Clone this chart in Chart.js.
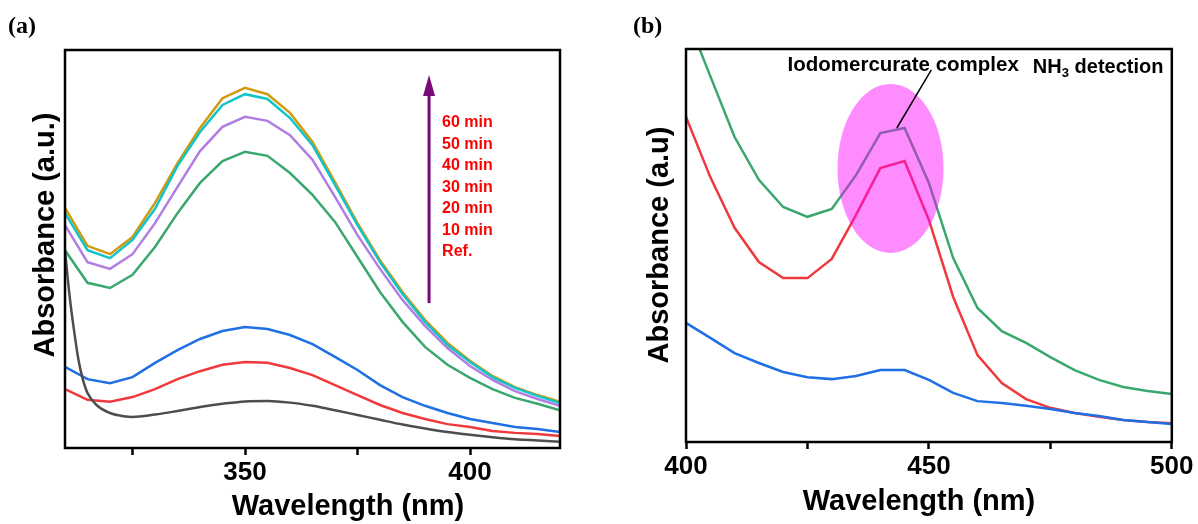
<!DOCTYPE html>
<html>
<head>
<meta charset="utf-8">
<script src="https://cdn.jsdelivr.net/npm/chart.js@4.4.0/dist/chart.umd.min.js"></script>
<style>
  body { margin: 0; background: #fff; }
  #wrap { position: relative; width: 1198px; height: 524px; }
  canvas { position: absolute; top: 0; }
</style>
</head>
<body>
<div id="wrap">
  <canvas id="chartA" width="600" height="524" style="left:0"></canvas>
  <canvas id="chartB" width="598" height="524" style="left:600px"></canvas>
</div>
<script>
// ---- panel (a): absorbance vs time ----
const wavelengthsA = [310, 315, 320, 325, 330, 335, 340, 345, 350, 355, 360, 365, 370, 375, 380, 385, 390, 395, 400, 405, 410, 415, 420];
const abs60min = [0.603, 0.508, 0.487, 0.530, 0.616, 0.716, 0.804, 0.879, 0.905, 0.889, 0.842, 0.769, 0.668, 0.565, 0.472, 0.392, 0.322, 0.264, 0.219, 0.181, 0.153, 0.133, 0.116];
const abs50min = [0.590, 0.497, 0.477, 0.523, 0.601, 0.709, 0.794, 0.862, 0.889, 0.877, 0.829, 0.761, 0.661, 0.560, 0.467, 0.387, 0.317, 0.259, 0.216, 0.178, 0.151, 0.131, 0.113];
const abs40min = [0.560, 0.467, 0.450, 0.487, 0.565, 0.656, 0.746, 0.807, 0.832, 0.822, 0.786, 0.724, 0.631, 0.535, 0.450, 0.372, 0.307, 0.251, 0.206, 0.171, 0.143, 0.123, 0.106];
const abs30min = [0.497, 0.415, 0.402, 0.435, 0.505, 0.590, 0.666, 0.721, 0.744, 0.734, 0.691, 0.636, 0.568, 0.480, 0.392, 0.317, 0.254, 0.209, 0.176, 0.148, 0.126, 0.111, 0.095];
const abs20min = [0.204, 0.173, 0.163, 0.178, 0.214, 0.246, 0.274, 0.294, 0.304, 0.299, 0.284, 0.261, 0.229, 0.196, 0.158, 0.128, 0.106, 0.088, 0.073, 0.063, 0.053, 0.048, 0.040];
const abs10min = [0.148, 0.121, 0.116, 0.128, 0.148, 0.173, 0.193, 0.209, 0.216, 0.214, 0.201, 0.183, 0.158, 0.133, 0.108, 0.088, 0.073, 0.060, 0.053, 0.043, 0.038, 0.035, 0.030];
const refWavelengths = [310, 311, 312, 313, 314, 315, 317, 320, 323, 325, 330, 335, 340, 345, 350, 355, 360, 365, 370, 375, 380, 385, 390, 395, 400, 405, 410, 415, 420];
const absRef = [0.497, 0.384, 0.296, 0.221, 0.171, 0.138, 0.108, 0.088, 0.080, 0.078, 0.084, 0.093, 0.103, 0.111, 0.117, 0.118, 0.114, 0.106, 0.095, 0.083, 0.071, 0.059, 0.049, 0.040, 0.033, 0.027, 0.022, 0.019, 0.016];
const xTicksA = [325, 350, 375, 400];
const timeLabels = ['60 min', '50 min', '40 min', '30 min', '20 min', '10 min', 'Ref.'];

// ---- panel (b): NH3 detection ----
const wavelengthsB = [400, 405, 410, 415, 420, 425, 430, 435, 440, 445, 450, 455, 460, 465, 470, 475, 480, 485, 490, 495, 500];
const absGreenB = [1.087, 0.931, 0.776, 0.667, 0.598, 0.573, 0.593, 0.679, 0.786, 0.799, 0.659, 0.468, 0.341, 0.282, 0.252, 0.216, 0.183, 0.158, 0.140, 0.130, 0.122];
const absRedB = [0.827, 0.674, 0.545, 0.458, 0.417, 0.417, 0.466, 0.578, 0.697, 0.715, 0.565, 0.369, 0.221, 0.150, 0.109, 0.087, 0.074, 0.064, 0.056, 0.051, 0.048];
const absBlueB = [0.303, 0.265, 0.226, 0.201, 0.178, 0.165, 0.160, 0.168, 0.183, 0.183, 0.158, 0.125, 0.104, 0.099, 0.092, 0.084, 0.074, 0.066, 0.056, 0.051, 0.046];
const xTicksB = [400, 425, 450, 475, 500];

const SANS = '"Liberation Sans", Arial, sans-serif';
const SERIF = '"Liberation Serif", "Times New Roman", serif';

function pts(xs, ys) {
  return xs.map((x, i) => ({ x: x, y: ys[i] }));
}

function line(label, xs, ys, color, extra) {
  return Object.assign({
    label: label,
    data: pts(xs, ys),
    borderColor: color,
    borderWidth: 2.5,
    pointRadius: 0,
    tension: 0,
    fill: false
  }, extra || {});
}

function baseOptions(xmin, xmax, tickValues, padding) {
  return {
    responsive: false,
    animation: false,
    layout: { padding: padding },
    plugins: { legend: { display: false }, tooltip: { enabled: false } },
    scales: {
      x: {
        type: 'linear',
        min: xmin,
        max: xmax,
        afterBuildTicks: (scale) => { scale.ticks = tickValues.map(v => ({ value: v })); },
        grid: { display: true, drawOnChartArea: false, drawTicks: true, tickLength: 7, tickWidth: 2.5, tickColor: '#000' },
        border: { display: false },
        ticks: {
          padding: 4.5,
          color: '#000',
          maxRotation: 0,
          autoSkip: false,
          font: { family: SANS, size: 26, weight: 'bold', lineHeight: 1 },
          callback: (v) => (v % 50 === 0 ? String(v) : '')
        }
      },
      y: { display: false, min: 0, max: 1 }
    }
  };
}

function drawFrame(chart) {
  const { ctx, chartArea: ca } = chart;
  ctx.save();
  ctx.lineWidth = 2.5;
  ctx.strokeStyle = '#000';
  ctx.strokeRect(ca.left, ca.top, ca.right - ca.left, ca.bottom - ca.top);
  ctx.restore();
}

function drawTitles(ctx, panel, panelX, yTitle, yCx, yCy, xCx, xCy) {
  ctx.save();
  ctx.fillStyle = '#000';
  ctx.textBaseline = 'middle';
  ctx.font = 'bold 24px ' + SERIF;
  ctx.textAlign = 'left';
  ctx.fillText(panel, panelX, 27);
  ctx.font = 'bold 29px ' + SANS;
  ctx.textAlign = 'center';
  ctx.fillText('Wavelength (nm)', xCx, xCy);
  ctx.translate(yCx, yCy);
  ctx.rotate(-Math.PI / 2);
  ctx.fillText(yTitle, 0, 0);
  ctx.restore();
}

// arrow + time labels for (a)
const annotA = {
  id: 'annotA',
  afterDatasetsDraw(chart) {
    const { ctx, scales: { x, y } } = chart;
    drawFrame(chart);
    ctx.save();
    const ax = x.getPixelForValue(390.9);
    const yBase = y.getPixelForValue(0.364);
    const yTip = y.getPixelForValue(0.937);
    ctx.strokeStyle = '#7a0a7a';
    ctx.fillStyle = '#7a0a7a';
    ctx.lineWidth = 3;
    ctx.beginPath();
    ctx.moveTo(ax, yBase);
    ctx.lineTo(ax, yTip + 18);
    ctx.stroke();
    ctx.beginPath();
    ctx.moveTo(ax, yTip);
    ctx.lineTo(ax - 6, yTip + 21);
    ctx.lineTo(ax + 6, yTip + 21);
    ctx.closePath();
    ctx.fill();

    ctx.fillStyle = '#ff0000';
    ctx.font = 'bold 16px ' + SANS;
    ctx.textBaseline = 'middle';
    ctx.textAlign = 'left';
    const tx = x.getPixelForValue(393.8);
    const ty = y.getPixelForValue(0.817);
    timeLabels.forEach((t, i) => ctx.fillText(t, tx, ty + i * 21.5));
    ctx.restore();
  },
  afterDraw(chart) {
    drawTitles(chart.ctx, '(a)', 8, 'Absorbance (a.u.)', 46, 235, 348, 507);
  }
};

// highlight ellipse + labels for (b)
const annotB = {
  id: 'annotB',
  afterDatasetsDraw(chart) {
    const { ctx, scales: { x, y } } = chart;
    ctx.save();
    ctx.fillStyle = 'rgba(255, 0, 255, 0.45)';
    ctx.beginPath();
    ctx.ellipse(x.getPixelForValue(442.1), y.getPixelForValue(0.696), 53, 84.5, 0, 0, Math.PI * 2);
    ctx.fill();
    ctx.restore();
    drawFrame(chart);

    ctx.save();
    ctx.strokeStyle = '#000';
    ctx.lineWidth = 1.5;
    ctx.beginPath();
    ctx.moveTo(x.getPixelForValue(450.5), y.getPixelForValue(0.947));
    ctx.lineTo(x.getPixelForValue(443.4), y.getPixelForValue(0.799));
    ctx.stroke();

    ctx.fillStyle = '#000';
    ctx.textBaseline = 'middle';
    ctx.textAlign = 'left';
    ctx.font = 'bold 20.5px ' + SANS;
    ctx.fillText('Iodomercurate complex', x.getPixelForValue(420.9), y.getPixelForValue(0.959));
    let nx = x.getPixelForValue(471.4);
    const ny = y.getPixelForValue(0.954);
    ctx.font = 'bold 20px ' + SANS;
    ctx.fillText('NH', nx, ny);
    nx += ctx.measureText('NH').width;
    ctx.font = 'bold 13px ' + SANS;
    ctx.fillText('3', nx, ny + 6);
    nx += ctx.measureText('3').width;
    ctx.font = 'bold 20px ' + SANS;
    ctx.fillText(' detection', nx, ny);
    ctx.restore();
  },
  afterDraw(chart) {
    drawTitles(chart.ctx, '(b)', 33, 'Absorbance (a.u)', 60, 245, 319, 502);
  }
};

new Chart(document.getElementById('chartA'), {
  type: 'line',
  data: {
    datasets: [
      line('Ref.', refWavelengths, absRef, '#4d4d4d', { cubicInterpolationMode: 'monotone' }),
      line('50 min', wavelengthsA, abs50min, '#12c4c8'),
      line('60 min', wavelengthsA, abs60min, '#d09a10'),
      line('40 min', wavelengthsA, abs40min, '#b07ee0'),
      line('30 min', wavelengthsA, abs30min, '#3aa86e'),
      line('20 min', wavelengthsA, abs20min, '#1f6fe5'),
      line('10 min', wavelengthsA, abs10min, '#f0393c')
    ]
  },
  options: baseOptions(310, 420, xTicksA, { left: 65, top: 50, right: 40, bottom: 34 }),
  plugins: [annotA]
});

new Chart(document.getElementById('chartB'), {
  type: 'line',
  data: {
    datasets: [
      line('blue', wavelengthsB, absBlueB, '#1f6fe5'),
      line('red', wavelengthsB, absRedB, '#f0393c'),
      line('green', wavelengthsB, absGreenB, '#3aa86e')
    ]
  },
  options: baseOptions(400, 500, xTicksB, { left: 86, top: 49, right: 23, bottom: 40 }),
  plugins: [annotB]
});
</script>
</body>
</html>
